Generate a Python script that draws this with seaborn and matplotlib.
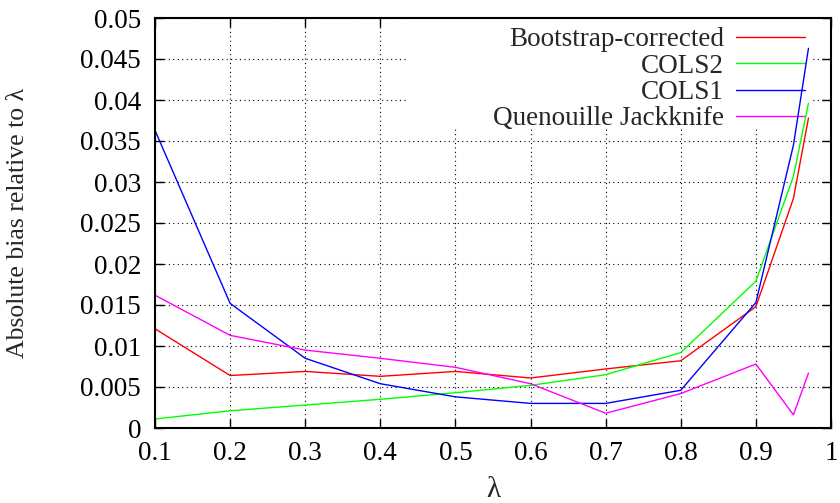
import numpy as np
import pandas as pd
import matplotlib
matplotlib.use("Agg")
import matplotlib.pyplot as plt
from matplotlib.patches import Rectangle
import seaborn as sns

# ---- data ----
lam = [0.1, 0.2, 0.3, 0.4, 0.5, 0.6, 0.7, 0.8, 0.9, 0.95, 0.97]
bootstrap = [0.0121, 0.0064, 0.0069, 0.0063, 0.0069, 0.0061, 0.0072, 0.0082, 0.0148, 0.0280, 0.0378]
cols2 = [0.0011, 0.0021, 0.0028, 0.0035, 0.0043, 0.0052, 0.0065, 0.0092, 0.0179, 0.0307, 0.0396]
cols1 = [0.0363, 0.0152, 0.0085, 0.0054, 0.0038, 0.0030, 0.0030, 0.0046, 0.0153, 0.0345, 0.0463]
jackknife = [0.0162, 0.0113, 0.0095, 0.0085, 0.0074, 0.0054, 0.0018, 0.0042, 0.0078, 0.0016, 0.0067]
series_names = ["Bootstrap-corrected", "COLS2", "COLS1", "Quenouille Jackknife"]
series_colors = ["#ff0000", "#00ff00", "#0000ff", "#ff00ff"]
xticks = [0.1, 0.2, 0.3, 0.4, 0.5, 0.6, 0.7, 0.8, 0.9, 1.0]
xticklabels = ["0.1", "0.2", "0.3", "0.4", "0.5", "0.6", "0.7", "0.8", "0.9", "1"]
yticks = [0, 0.005, 0.01, 0.015, 0.02, 0.025, 0.03, 0.035, 0.04, 0.045, 0.05]
yticklabels = ["0", "0.005", "0.01", "0.015", "0.02", "0.025", "0.03", "0.035", "0.04", "0.045", "0.05"]

frames = []
for name, vals in zip(series_names, [bootstrap, cols2, cols1, jackknife]):
    frames.append(pd.DataFrame({"lam": lam, "bias": vals, "method": name}))
df = pd.concat(frames, ignore_index=True)

sns.set_style("ticks")
plt.rcParams["font.family"] = ["Liberation Serif", "DejaVu Serif"]
plt.rcParams["font.size"] = 19.5
plt.rcParams["axes.axisbelow"] = True

fig = plt.figure(figsize=(8.4, 5.03), dpi=100)
ax = fig.add_axes([155 / 840, 1 - 428 / 503, (831 - 155) / 840, (428 - 18) / 503])

sns.lineplot(data=df, x="lam", y="bias", hue="method", hue_order=series_names,
             palette=dict(zip(series_names, series_colors)), linewidth=1.0,
             ax=ax, zorder=3, legend=True)

ax.set_xlim(0.1, 1.0)
ax.set_ylim(0, 0.05)
ax.set_xticks(xticks)
ax.set_xticklabels(xticklabels)
ax.set_yticks(yticks)
ax.set_yticklabels(yticklabels)
ax.grid(True, color="black", linestyle=(0, (1, 3)), linewidth=0.8)
ax.tick_params(direction="in", length=6.5, width=1.0, top=True, right=True,
               labelsize=19.5, colors="black")
ax.tick_params(axis="y", pad=10)
ax.tick_params(axis="x", pad=9)
for s in ax.spines.values():
    s.set_visible(True)
    s.set_linewidth(1.5)
    s.set_color("black")
    s.set_zorder(5)

ax.set_xlabel("λ", fontsize=21)
ax.set_ylabel("Absolute bias relative to λ", fontsize=18.5)
ax.xaxis.set_label_coords(0.5, -0.12)
ax.yaxis.set_label_coords(-0.187, 0.5)

# opaque key background (hides grid, lines drawn over it)
ax.add_patch(Rectangle((0.374, 0.73), 0.599, 0.27, transform=ax.transAxes,
                       facecolor="white", edgecolor="none", zorder=1))

leg = ax.legend(loc="upper right", bbox_to_anchor=(0.962, 0.977), frameon=False,
                markerfirst=False, borderaxespad=0, borderpad=0,
                handlelength=2.55, handletextpad=0.45, labelspacing=0.05,
                fontsize=19.5)
leg.set_zorder(2)

fig.savefig("out.png", dpi=100)
